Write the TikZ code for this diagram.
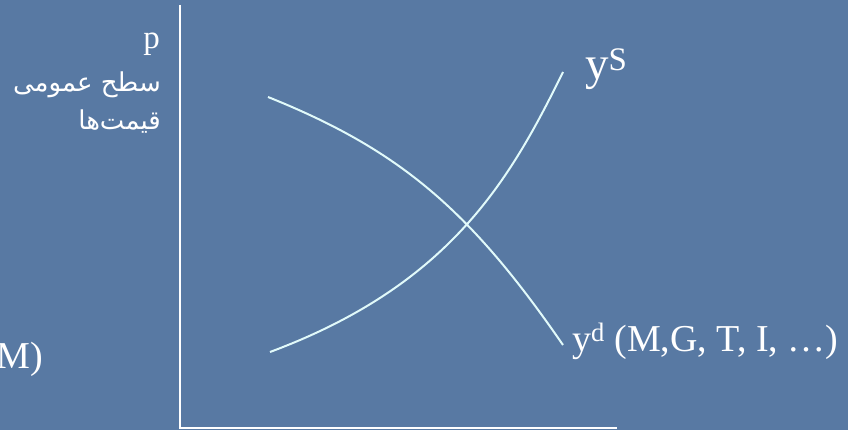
\documentclass[tikz,border=0pt]{standalone}
\usepackage{fontspec}
\setmainfont{Liberation Serif}
\newfontfamily\persianfont[Script=Arabic]{DejaVu Sans}
\TeXXeTstate=1
\definecolor{slideblue}{RGB}{88,121,163}
\definecolor{curvecyan}{RGB}{225,250,250}

\begin{document}
\begin{tikzpicture}[x=1pt, y=-1pt,
  curve/.style={curvecyan, line width=2pt},
  axis/.style={white, line width=2.5pt},
  txt/.style={white, inner sep=0pt}]
  \fill[slideblue] (0,0) rectangle (848,430);
  \useasboundingbox (0,0) rectangle (848,430);
  % axes
  \coordinate (top) at (180,5);
  \coordinate (origin) at (180,428);
  \coordinate (right) at (617,428);
  \draw[axis] (top) -- (origin) -- (right);
  % labels of the price axis
  \node[txt, anchor=base east, font=\fontsize{33}{36}\selectfont] (plabel) at (160,49) {p};
  \node[txt, anchor=east, font=\fontsize{26}{30}\persianfont] (plevel) at (161,85) {\beginR سطح عمومی\endR};
  \node[txt, anchor=east, font=\fontsize{26}{30}\persianfont] (prices) at (161,122) {\beginR قیمت‌ها\endR};
  % supply and demand
  \coordinate (s0) at (270,352);
  \coordinate (s1) at (563,72);
  \coordinate (d0) at (268,97);
  \coordinate (d1) at (563,345);
  \draw[curve] (s0) .. controls (450,285) and (510,180) .. (s1);
  \draw[curve] (d0) .. controls (400,150) and (470,210) .. (d1);
  \node[txt, anchor=base west, font=\fontsize{47}{50}\selectfont] (supply) at (585,80) {y\textsuperscript{S}};
  \node[txt, anchor=base west, font=\fontsize{38}{42}\selectfont] (demand) at (572,351) {y\textsuperscript{d} (M,G, T, I, …)};
  \node[txt, anchor=base east, font=\fontsize{38}{42}\selectfont] (money) at (43,368) {M)};
\end{tikzpicture}
\end{document}
